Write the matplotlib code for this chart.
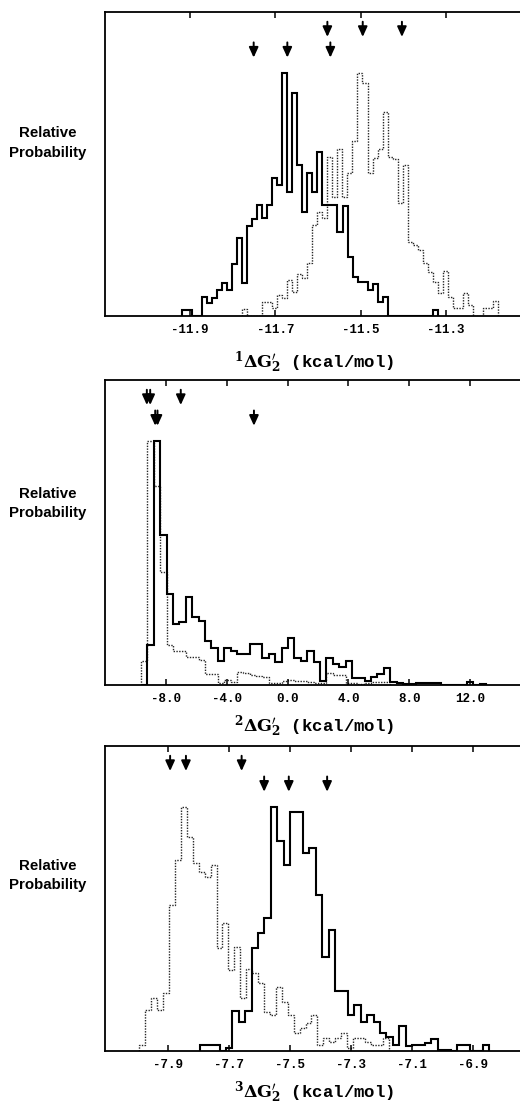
import numpy as np
import matplotlib
matplotlib.use("Agg")
import matplotlib.pyplot as plt

plt.rcParams['mathtext.fontset'] = 'dejavuserif'

# ---------------- data ----------------
# Panel 1  (1ΔG'2)
p1_solid_start = -11.9204
p1_solid_width = 0.01181
p1_solid = [6, 6, 0, 0, 19, 13, 18, 26, 33, 26, 52, 78, 33, 90, 97, 111, 98, 111, 138, 131,
            243, 124, 223, 151, 104, 143, 124, 164, 111, 111, 111, 84, 110, 59, 39, 34, 34, 26,
            32, 14, 19, 0, 0, 0, 0, 0, 0, 0, 0, 0, 6]
p1_dotted_start = -11.779
p1_dotted_width = 0.01181
p1_dotted = [7, 0, 0, 0, 14, 14, 8, 21, 18, 36, 24, 42, 38, 53, 91, 104, 98, 159, 119, 167,
             119, 143, 175, 243, 233, 143, 158, 167, 204, 159, 157, 113, 151, 74, 71, 66, 53,
             44, 34, 23, 45, 19, 8, 8, 23, 11, 0, 0, 8, 8, 15]
p1_xlim = (-12.1, -11.1)
p1_ticks = [-11.9, -11.7, -11.5, -11.3]
p1_ticklabels = ['-11.9', '-11.7', '-11.5', '-11.3']
p1_arrows_dotted = [-11.578, -11.495, -11.403]
p1_arrows_solid = [-11.751, -11.672, -11.571]

# Panel 2  (2ΔG'2)
p2_solid_start = -9.63
p2_solid_width = 0.42
p2_solid = [0, 40, 243, 149, 91, 61, 63, 88, 68, 64, 44, 37, 24, 37, 34, 31, 31, 41, 41, 27,
            31, 23, 37, 47, 27, 24, 34, 23, 4, 27, 21, 18, 24, 7, 7, 4, 8, 11, 17, 3,
            2, 1, 1, 2, 2, 2, 2, 0, 0, 0, 0, 3, 0, 1]
p2_dotted_start = -9.63
p2_dotted_width = 0.42
p2_dotted = [24, 243, 198, 113, 40, 34, 34, 28, 28, 25, 11, 11, 2, 5, 3, 13, 12, 10, 9, 8,
             2, 2, 4, 5, 4, 4, 3, 2, 2, 12, 10, 10, 2, 2, 1, 2, 3, 3, 3]
p2_xlim = (-12.0, 16.0)
p2_ticks = [-8.0, -4.0, 0.0, 4.0, 8.0, 12.0]
p2_ticklabels = ['-8.0', '-4.0', '0.0', '4.0', '8.0', '12.0']
p2_arrows_dotted = [-9.25, -9.03, -7.02]
p2_arrows_solid = [-8.70, -8.55, -2.21]

# Panel 3  (3ΔG'2)
p3_solid_start = -7.795
p3_solid_width = 0.0211
p3_solid = [6, 6, 6, 0, 3, 40, 29, 40, 103, 118, 133, 244, 210, 186, 239, 239, 198, 203, 156,
            94, 121, 60, 60, 36, 46, 29, 36, 29, 18, 14, 6, 25, 5, 6, 6, 8, 12, 1, 1, 0, 6, 6,
            0, 0, 6]
p3_dotted_start = -7.995
p3_dotted_width = 0.0195
p3_dotted = [6, 41, 53, 41, 58, 146, 191, 244, 214, 188, 179, 174, 186, 103, 128, 81, 104, 53,
             82, 78, 68, 39, 36, 64, 49, 36, 18, 23, 28, 36, 6, 13, 9, 13, 18, 3, 13, 13, 9, 6,
             6, 13]
p3_xlim = (-8.108, -6.708)
p3_ticks = [-7.9, -7.7, -7.5, -7.3, -7.1, -6.9]
p3_ticklabels = ['-7.9', '-7.7', '-7.5', '-7.3', '-7.1', '-6.9']
p3_arrows_dotted = [-7.894, -7.842, -7.659]
p3_arrows_solid = [-7.585, -7.504, -7.378]

xlabels = [r'$^{\mathbf{1}}\mathbf{\Delta G}^{\prime}_{\mathbf{2}}$ (kcal/mol)',
           r'$^{\mathbf{2}}\mathbf{\Delta G}^{\prime}_{\mathbf{2}}$ (kcal/mol)',
           r'$^{\mathbf{3}}\mathbf{\Delta G}^{\prime}_{\mathbf{2}}$ (kcal/mol)']
ylabel_lines = ['Relative', 'Probability']

# ---------------- layout ----------------
W, H = 520, 1105
fig = plt.figure(figsize=(W / 100, H / 100), dpi=100)

panels = [
    dict(top=12, bot=316, solid=p1_solid, s0=p1_solid_start, sw=p1_solid_width,
         dotted=p1_dotted, d0=p1_dotted_start, dw=p1_dotted_width, xlim=p1_xlim,
         ticks=p1_ticks, labels=p1_ticklabels, up=p1_arrows_dotted, low=p1_arrows_solid,
         xlabel_y=363, ylab_y=(133, 153)),
    dict(top=380, bot=685, solid=p2_solid, s0=p2_solid_start, sw=p2_solid_width,
         dotted=p2_dotted, d0=p2_dotted_start, dw=p2_dotted_width, xlim=p2_xlim,
         ticks=p2_ticks, labels=p2_ticklabels, up=p2_arrows_dotted, low=p2_arrows_solid,
         xlabel_y=727, ylab_y=(494, 513)),
    dict(top=746, bot=1051, solid=p3_solid, s0=p3_solid_start, sw=p3_solid_width,
         dotted=p3_dotted, d0=p3_dotted_start, dw=p3_dotted_width, xlim=p3_xlim,
         ticks=p3_ticks, labels=p3_ticklabels, up=p3_arrows_dotted, low=p3_arrows_solid,
         xlabel_y=1093, ylab_y=(866, 885)),
]

arrow_kw = dict(arrowstyle='-|>,head_length=0.55,head_width=0.25', color='black', lw=1.4,
                mutation_scale=11, shrinkA=0, shrinkB=0)

for i, p in enumerate(panels):
    ax = fig.add_axes([105 / W, 1 - p['bot'] / H, 426 / W, (p['bot'] - p['top']) / H])
    se = p['s0'] + p['sw'] * np.arange(len(p['solid']) + 1)
    de = p['d0'] + p['dw'] * np.arange(len(p['dotted']) + 1)
    ax.stairs(p['dotted'], de, baseline=0, color='0.15', lw=1.0, ls=(0, (1, 1)))
    ax.stairs(p['solid'], se, baseline=0, color='black', lw=1.5)
    top = max(max(p['solid']), max(p['dotted']))
    ax.set_ylim(0, top * 1.25)
    ax.set_xlim(*p['xlim'])
    ax.set_yticks([])
    ax.set_xticks(p['ticks'])
    ax.set_xticklabels(p['labels'], fontfamily='Liberation Mono', fontweight='bold',
                       fontsize=9)
    ax.tick_params(axis='x', direction='in', top=True, bottom=True, length=4, width=1.1,
                   pad=6)
    for s in ax.spines.values():
        s.set_linewidth(1.3)
    for x in p['up']:
        ax.annotate('', xy=(x, 0.918), xytext=(x, 0.968),
                    xycoords=('data', 'axes fraction'), textcoords=('data', 'axes fraction'),
                    arrowprops=arrow_kw)
    for x in p['low']:
        ax.annotate('', xy=(x, 0.85), xytext=(x, 0.90),
                    xycoords=('data', 'axes fraction'), textcoords=('data', 'axes fraction'),
                    arrowprops=arrow_kw)
    fig.text(314 / W, 1 - p['xlabel_y'] / H, xlabels[i], ha='center', va='center',
             fontfamily='Liberation Mono', fontweight='bold', fontsize=12.5)
    for line, yy in zip(ylabel_lines, p['ylab_y']):
        fig.text(48 / W, 1 - yy / H, line, ha='center', va='center',
                 fontfamily=['Liberation Sans', 'DejaVu Sans'], fontweight='bold',
                 fontsize=10.8)

fig.savefig('out.png', dpi=100)
